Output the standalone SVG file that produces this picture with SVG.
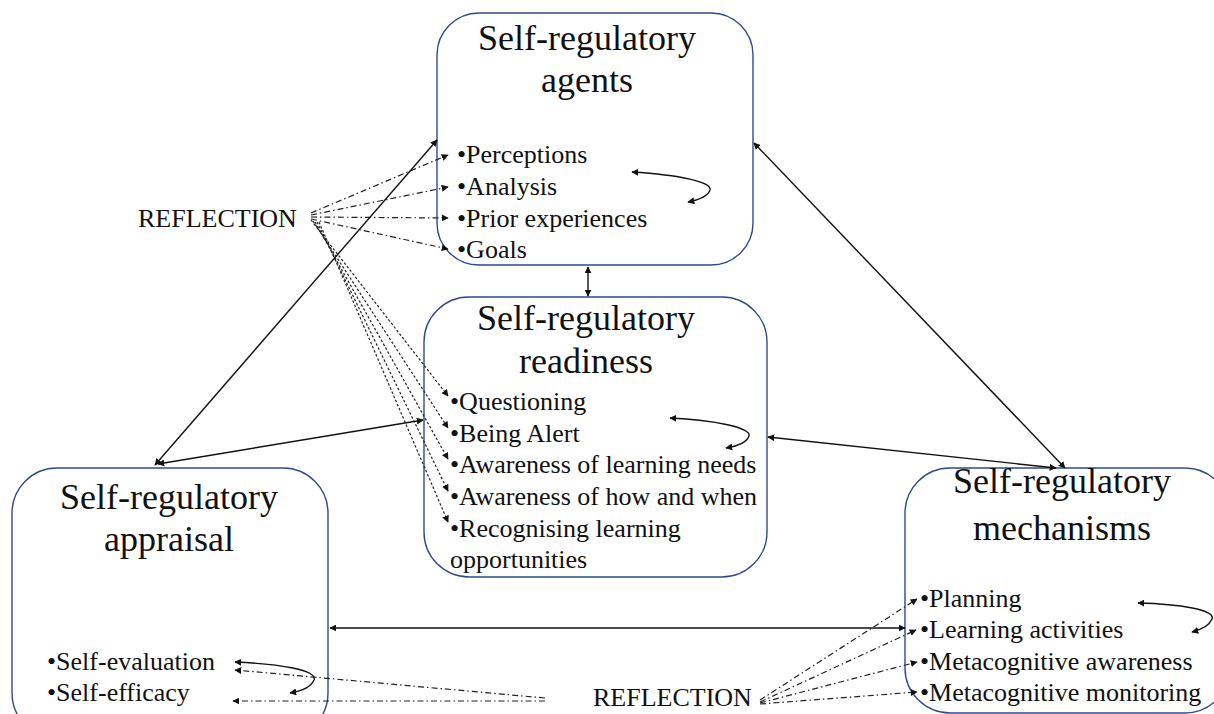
<svg xmlns="http://www.w3.org/2000/svg" width="1214" height="714" viewBox="0 0 1214 714">
<style>
.box{fill:#fff;stroke:#2f4b8c;stroke-width:1.4}
.title{font-size:36px;fill:#111;text-anchor:middle}
.item{font-size:26px;fill:#111}
.solid{fill:none;stroke:#111;stroke-width:1.4}
.dd{fill:none;stroke:#222;stroke-width:1.2;stroke-dasharray:6 3 1.5 3}
.dot{fill:none;stroke:#222;stroke-width:1.2;stroke-dasharray:2.5 2}
</style>
<defs>
<marker id="ah" viewBox="0 0 10 10" refX="9" refY="5" markerWidth="7" markerHeight="7" markerUnits="userSpaceOnUse" orient="auto-start-reverse">
<path d="M0,0 L10,5 L0,10 z" fill="#111"/>
</marker>
</defs>
<rect width="1214" height="714" fill="#fff"/>
<g font-family="Liberation Serif, Tinos, DejaVu Serif, Times New Roman, serif">
<g id="agents">
<rect class="box" x="437" y="13" width="316" height="252" rx="42"/>
<text class="title" x="587" y="50">Self-regulatory</text>
<text class="title" x="587" y="92">agents</text>
<text class="item" x="457" y="163">•Perceptions</text>
<text class="item" x="457" y="195">•Analysis</text>
<text class="item" x="457" y="227">•Prior experiences</text>
<text class="item" x="457" y="258">•Goals</text>
</g>
<g id="readiness">
<rect class="box" x="424" y="297" width="343" height="280" rx="45"/>
<text class="title" x="586" y="330">Self-regulatory</text>
<text class="title" x="586" y="373">readiness</text>
<text class="item" x="450" y="410">•Questioning</text>
<text class="item" x="450" y="442">•Being Alert</text>
<text class="item" x="450" y="473">•Awareness of learning needs</text>
<text class="item" x="450" y="505">•Awareness of how and when</text>
<text class="item" x="450" y="537">•Recognising learning</text>
<text class="item" x="450" y="568">opportunities</text>
</g>
<g id="appraisal">
<rect class="box" x="12" y="468" width="316" height="270" rx="45"/>
<text class="title" x="169" y="509">Self-regulatory</text>
<text class="title" x="169" y="551">appraisal</text>
<text class="item" x="47" y="670">•Self-evaluation</text>
<text class="item" x="47" y="701">•Self-efficacy</text>
</g>
<g id="mechanisms">
<rect class="box" x="905" y="468" width="325" height="245" rx="45"/>
<text class="title" x="1062" y="493">Self-regulatory</text>
<text class="title" x="1062" y="540">mechanisms</text>
<text class="item" x="920" y="607">•Planning</text>
<text class="item" x="920" y="638">•Learning activities</text>
<text class="item" x="920" y="670">•Metacognitive awareness</text>
<text class="item" x="920" y="701">•Metacognitive monitoring</text>
</g>
<g id="reflection-left">
<text class="item" x="138" y="227">REFLECTION</text>
</g>
<g id="reflection-bottom">
<text class="item" x="593" y="706">REFLECTION</text>
</g>
</g>
<g id="connectors">
<line class="solid" x1="155" y1="465" x2="437" y2="140" marker-start="url(#ah)" marker-end="url(#ah)"/>
<line class="solid" x1="158" y1="464" x2="423" y2="420" marker-start="url(#ah)" marker-end="url(#ah)"/>
<line class="solid" x1="754" y1="143" x2="1065" y2="468" marker-start="url(#ah)" marker-end="url(#ah)"/>
<line class="solid" x1="768" y1="437" x2="1056" y2="468" marker-start="url(#ah)" marker-end="url(#ah)"/>
<line class="solid" x1="588" y1="267" x2="588" y2="296" marker-start="url(#ah)" marker-end="url(#ah)"/>
<line class="solid" x1="330" y1="628" x2="905" y2="628" marker-start="url(#ah)" marker-end="url(#ah)"/>
<path class="solid" d="M632,172 C680,175 712,182 710,190 C708,196 698,200 688,202" marker-start="url(#ah)" marker-end="url(#ah)"/>
<path class="solid" d="M670,418 C715,420 752,428 749,436 C747,442 738,446 726,448" marker-start="url(#ah)" marker-end="url(#ah)"/>
<path class="solid" d="M235,662 C280,664 318,670 314,680 C311,687 302,691 290,693" marker-start="url(#ah)" marker-end="url(#ah)"/>
<path class="solid" d="M1138,603 C1180,604 1216,610 1212,619 C1209,626 1200,630 1192,632" marker-start="url(#ah)" marker-end="url(#ah)"/>
<line class="dd" x1="311" y1="213" x2="448" y2="155" marker-end="url(#ah)"/>
<line class="dd" x1="311" y1="215" x2="448" y2="187" marker-end="url(#ah)"/>
<line class="dd" x1="311" y1="217" x2="448" y2="218" marker-end="url(#ah)"/>
<line class="dd" x1="311" y1="219" x2="448" y2="249" marker-end="url(#ah)"/>
<line class="dot" x1="311" y1="220" x2="448" y2="396" marker-end="url(#ah)"/>
<line class="dot" x1="313" y1="221" x2="448" y2="428" marker-end="url(#ah)"/>
<line class="dot" x1="315" y1="222" x2="448" y2="459" marker-end="url(#ah)"/>
<line class="dot" x1="317" y1="222" x2="448" y2="491" marker-end="url(#ah)"/>
<line class="dot" x1="319" y1="222" x2="448" y2="522" marker-end="url(#ah)"/>
<line class="dd" x1="545" y1="698" x2="235" y2="670" marker-end="url(#ah)"/>
<line class="dd" x1="545" y1="701" x2="233" y2="701" marker-end="url(#ah)"/>
<line class="dd" x1="760" y1="700" x2="917" y2="599" marker-end="url(#ah)"/>
<line class="dd" x1="760" y1="702" x2="916" y2="630" marker-end="url(#ah)"/>
<line class="dd" x1="760" y1="703" x2="917" y2="662" marker-end="url(#ah)"/>
<line class="dd" x1="760" y1="704" x2="917" y2="692" marker-end="url(#ah)"/>
</g>
</svg>
